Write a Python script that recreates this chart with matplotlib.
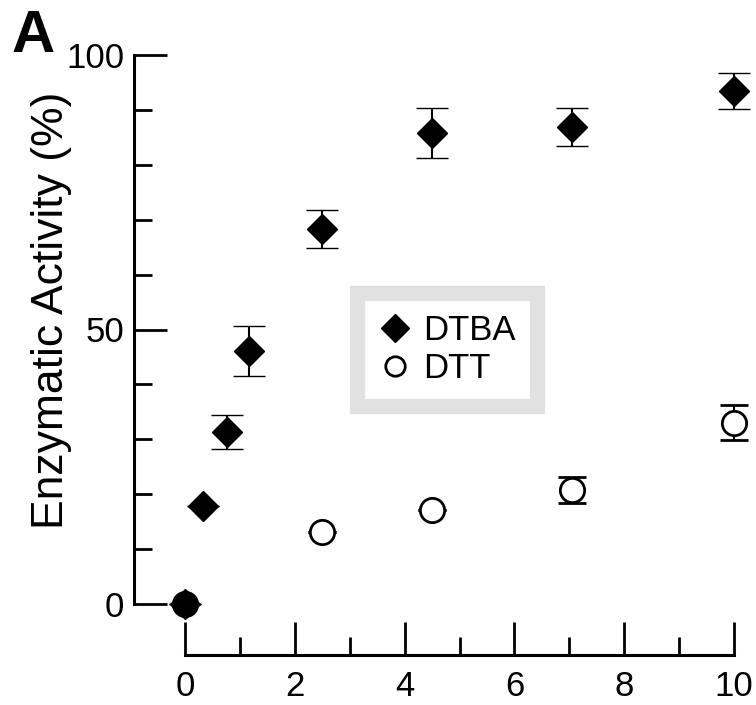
import matplotlib
matplotlib.use('Agg')
import matplotlib.pyplot as plt
from matplotlib.lines import Line2D
from matplotlib.ticker import MultipleLocator

plt.rcParams['font.family'] = ['Liberation Sans', 'DejaVu Sans']

# data
dtba_x = [0, 0.33, 0.77, 1.17, 2.5, 4.5, 7.05, 10]
dtba_y = [0, 17.9, 31.3, 46.1, 68.3, 85.8, 86.9, 93.4]
dtba_err = [0, 0, 3.1, 4.5, 3.4, 4.6, 3.5, 3.3]

dtt_x = [0, 2.5, 4.5, 7.05, 10]
dtt_y = [0, 13.1, 17.1, 20.8, 33.0]
dtt_err = [0, 0, 0, 2.4, 3.2]

fig = plt.figure(figsize=(7.56, 7.05), dpi=100)
ax = fig.add_axes([185/756, 101/705, 549/756, 549/705])

# DTT first so the diamond at the origin sits on top
ax.errorbar(dtt_x, dtt_y, yerr=dtt_err, fmt='o', color='black', mfc='white',
            mec='black', ms=17.5, mew=2, elinewidth=1.5, capsize=10, capthick=2.5,
            clip_on=False, zorder=3)
ax.errorbar(dtba_x, dtba_y, yerr=dtba_err, fmt='D', color='black', mfc='black',
            mec='black', ms=15, mew=1, elinewidth=1.5, capsize=11.5, capthick=2.5,
            clip_on=False, zorder=4)

ax.set_xlim(0, 10)
ax.set_ylim(0, 100)

for s in ['top', 'right']:
    ax.spines[s].set_visible(False)
ax.spines['left'].set_position(('outward', 36.7))
ax.spines['bottom'].set_position(('outward', 36.7))
ax.spines['left'].set_linewidth(2.2)
ax.spines['bottom'].set_linewidth(2.2)

ax.xaxis.set_major_locator(MultipleLocator(2))
ax.xaxis.set_minor_locator(MultipleLocator(1))
ax.yaxis.set_major_locator(MultipleLocator(50))
ax.yaxis.set_minor_locator(MultipleLocator(10))
ax.tick_params(which='major', direction='in', length=23.5, width=2, labelsize=25)
ax.tick_params(which='minor', direction='in', length=13, width=2)
ax.tick_params(axis='y', pad=7)
ax.tick_params(axis='x', pad=11)

ax.set_ylabel('Enzymatic Activity (%)', fontsize=32)
ax.yaxis.set_label_coords(-0.205, 0.535)

handles = [
    Line2D([], [], ls='none', marker='D', color='black', ms=14),
    Line2D([], [], ls='none', marker='o', mfc='white', mec='black', ms=14, mew=2),
]
leg = ax.legend(handles, ['DTBA', 'DTT'], loc='center', bbox_to_anchor=(0.477, 0.464),
                fontsize=25, frameon=True, fancybox=False, handlelength=1.0,
                handletextpad=0.3, labelspacing=0.15, borderpad=0.6)
leg.get_frame().set_edgecolor('#dadada')
leg.get_frame().set_linewidth(11)

fig.text(12/756, 1 - 52/705, 'A', fontsize=43, fontweight='bold',
         ha='left', va='baseline')

fig.savefig('out.png', dpi=100)
